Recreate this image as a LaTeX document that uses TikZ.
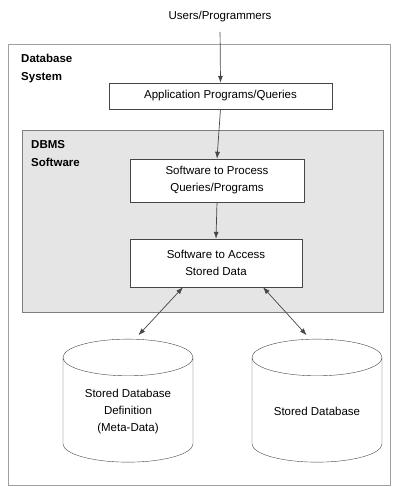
\documentclass[tikz,border=0pt]{standalone}
\usepackage{fontspec}
\setmainfont{Liberation Sans}
\usetikzlibrary{arrows.meta,positioning,shapes.geometric}
\definecolor{figedge}{RGB}{70,70,70}
\definecolor{frameedge}{RGB}{160,160,160}
\definecolor{dbmsfill}{RGB}{229,229,229}

\begin{document}
\begin{tikzpicture}[x=1pt, y=-1pt,
  font=\fontsize{11.5}{17}\selectfont,
  frame/.style={draw=frameedge, line width=0.9pt, inner sep=0pt},
  box/.style={draw=figedge, fill=white, align=center, inner sep=2pt},
  lbl/.style={font=\fontsize{11.5}{18}\selectfont\bfseries, align=left, anchor=north west, inner sep=0pt},
  store/.style={cylinder, shape border rotate=90, draw=figedge, fill=white,
    aspect=0.415, minimum width=130pt, minimum height=123pt, align=center, inner sep=1pt},
  arr/.style={-{Latex[length=7pt,width=5pt]}, figedge, line width=0.7pt},
  darr/.style={{Latex[length=7pt,width=5pt]}-{Latex[length=7pt,width=5pt]}, figedge, line width=0.7pt}]
  \useasboundingbox (0,0) rectangle (393,487);
  % outer frame and DBMS frame
  \node[frame, minimum width=382pt, minimum height=441pt] (dbsys) at (199.5,264.5) {};
  \node[lbl] (dbsyslbl) at (21,54) {Database\\System};
  \node (users) at (220,17) {Users/Programmers};
  \node[box, minimum width=223pt, minimum height=26pt] (app) at (220.5,96) {Application Programs/Queries};
  \node[frame, draw=figedge!70, fill=dbmsfill, minimum width=361pt, minimum height=182pt] (dbms) at (202.5,221) {};
  \node[lbl] (dbmslbl) at (31,140) {DBMS\\Software};
  \node[box, minimum width=174pt, minimum height=43pt] (proc) at (217,180.5) {Software to Process\\Queries/Programs};
  \node[box, minimum width=172pt, minimum height=48pt] (access) at (216,263) {Software to Access\\Stored Data};
  % stores
  \node[store] (meta) at (128,411.5) {Stored Database\\Definition\\(Meta-Data)};
  \node[store] (stored) at (317,411.5) {Stored Database};
  \draw[arr, shorten <=6pt] (users.south) -- (app.north);
  \draw[arr] (app.south) -- (proc.north);
  \draw[arr] (proc.south) -- (access.north);
  \draw[darr, shorten >=5pt] ([xshift=-33pt]access.south) -- ([xshift=7pt]meta.north);
  \draw[darr, shorten >=5pt] ([xshift=47pt]access.south) -- ([xshift=-7pt]stored.north);
\end{tikzpicture}
\end{document}
